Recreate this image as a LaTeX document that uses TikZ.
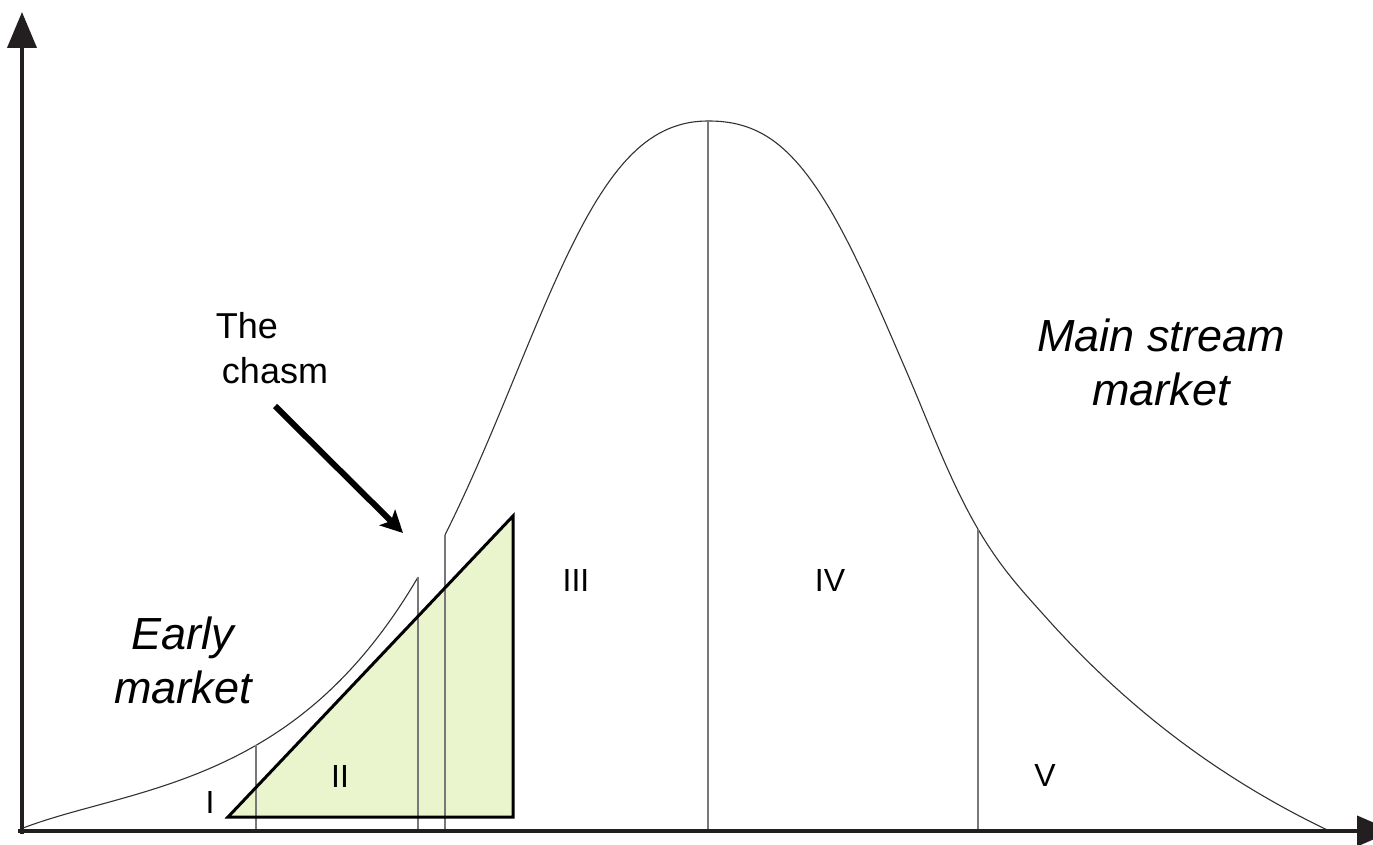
\documentclass[tikz,border=0pt]{standalone}
\usepackage{fontspec}
\setmainfont{Liberation Sans}
\usetikzlibrary{arrows.meta}
\definecolor{axiscol}{RGB}{35,31,32}
\definecolor{curvecol}{RGB}{50,50,50}
\definecolor{divcol}{RGB}{120,120,120}
\definecolor{trifill}{RGB}{234,245,206}
\tikzset{
  axisline/.style={line width=4pt, draw=axiscol, -{Triangle[length=36pt,width=29pt]}},
  bellcurve/.style={line width=1.1pt, draw=curvecol},
  divider/.style={line width=1.4pt, draw=divcol},
  bigtext/.style={font=\fontsize{45}{54}\selectfont\itshape, align=center, inner sep=0pt},
  chasmtext/.style={font=\fontsize{36}{45}\selectfont, inner sep=0pt},
  segtext/.style={font=\fontsize{32}{38}\selectfont, inner sep=0pt},
  chasmarrow/.style={line width=6pt, -{Stealth[length=22pt,width=22pt,inset=5pt]}}
}
\begin{document}
\begin{tikzpicture}[x=1pt,y=-1pt,
  declare function={
    hE(\x)=85*exp(0.00673*(\x-256)) - 16*exp(-(\x-22)/60);
    hL(\t)=709/(1+0.35*pow(\t/235,2)+0.65*pow(\t/235,3.5));
    hR(\t)=709/(1+0.25*pow(\t/245,2)+0.75*pow(\t/245,3.2));
    hT(\t)=456.9*exp(-0.003*(\t-270))-159.9;
    sR(\t)=max(0,min(1,(\t-200)/140));
    wR(\t)=3*sR(\t)*sR(\t)-2*sR(\t)*sR(\t)*sR(\t);
    hM(\t)=(1-wR(\t))*hR(\t)+wR(\t)*hT(\t);
  }]
\clip (0,0) rectangle (1373,845);
\fill[white] (0,0) rectangle (1373,845);

% triangle fill
\coordinate (ta) at (228,817);
\coordinate (tb) at (513,516);
\coordinate (tc) at (513,817);
\fill[trifill] (ta) -- (tb) -- (tc) -- cycle;

% bell curve, left piece (early market)
\draw[bellcurve] plot[domain=22:418, samples=80, variable=\x] ({\x},{830-hE(\x)});
% bell curve, right piece (main stream)
\draw[bellcurve] plot[domain=263:0.5, samples=60, variable=\t] ({708-\t},{830-hL(\t)})
   -- plot[domain=0.5:620, samples=150, variable=\t] ({708+\t},{830-hM(\t)});

% dividers
\coordinate (d1t) at (256,{830-hE(256)}); \coordinate (d1b) at (256,831);
\coordinate (d2t) at (418,{830-hE(418)}); \coordinate (d2b) at (418,831);
\coordinate (d3t) at (445,{830-hL(263)}); \coordinate (d3b) at (445,831);
\coordinate (d4t) at (708,121); \coordinate (d4b) at (708,831);
\coordinate (d5t) at (978,{830-hM(270)}); \coordinate (d5b) at (978,831);
\draw[divider] (d1t) -- (d1b);
\draw[divider] (d2t) -- (d2b);
\draw[divider] (d3t) -- (d3b);
\draw[divider] (d4t) -- (d4b);
\draw[divider] (d5t) -- (d5b);

% triangle border
\draw[line width=3pt, line join=miter] (ta) -- (tb) -- (tc) -- cycle;

% axes
\coordinate (origin) at (22,834);
\coordinate (ytop) at (22,12);
\coordinate (xstart) at (18,831);
\coordinate (xend) at (1393,831);
\draw[axisline] (origin) -- (ytop);
\draw[axisline, -{Triangle[length=36pt,width=30pt]}] (xstart) -- (xend);

% labels
\node[chasmtext] (the) at (247,326) {The};
\node[chasmtext] (chasm) at (275,371) {chasm};
\coordinate (arrowtip) at (403,533);
\coordinate (arrowstart) at (275,406);
\draw[chasmarrow] (arrowstart) -- (arrowtip);

\node[bigtext] (early) at (183,660) {Early\\market};
\node[bigtext] (main) at (1161,362) {Main stream\\market};

\node[segtext] (sI) at (210,802) {I};
\node[segtext] (sII) at (340,776) {II};
\node[segtext] (sIII) at (576,580) {III};
\node[segtext] (sIV) at (830,580) {IV};
\node[segtext] (sV) at (1045,775) {V};
\end{tikzpicture}
\end{document}
